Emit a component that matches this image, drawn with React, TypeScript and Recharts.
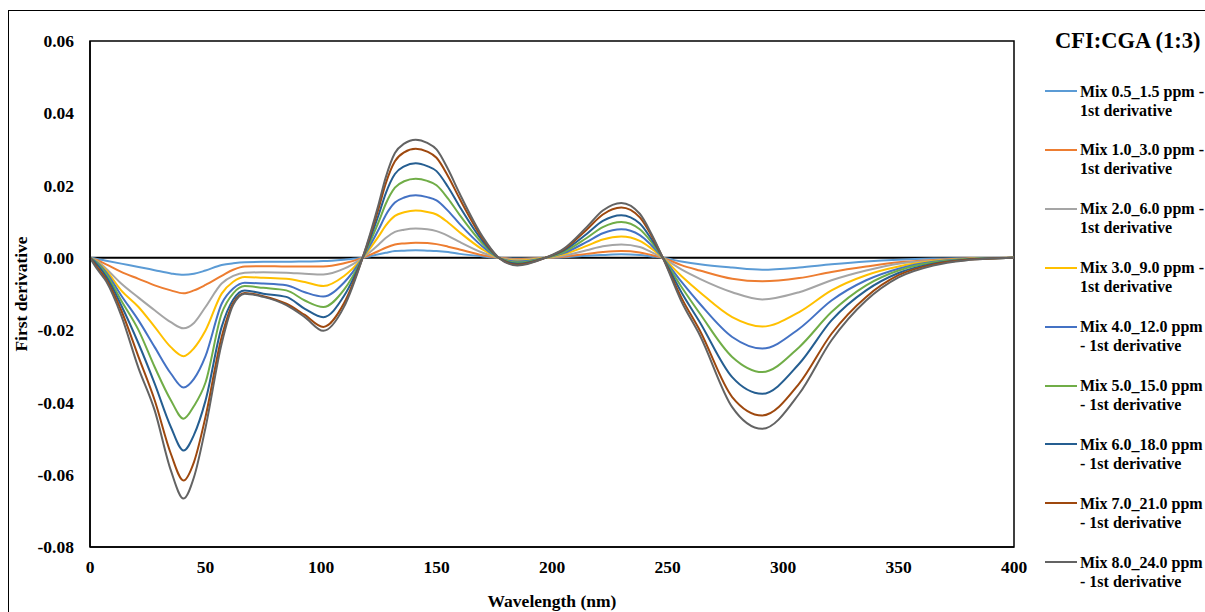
import React from 'react';
import { LineChart, Line, XAxis, YAxis, ReferenceLine, ReferenceArea, Label } from 'recharts';

const FONT = '"Liberation Serif", "Times New Roman", Times, serif';

const wavelength = [0, 3, 7, 13.5, 21, 28, 35, 40.5, 45, 50, 57, 62, 67, 75, 85, 93, 101, 110, 118, 125, 128, 132, 136, 141, 146, 150, 155, 160, 170, 177, 185, 197, 205, 215, 222, 230, 238, 243, 248, 256, 264, 278, 291, 307, 321, 336, 350, 365, 379, 400];

const mix05 = [0, -0.0003, -0.0008, -0.0016, -0.0025, -0.0034, -0.0043, -0.0047, -0.0044, -0.0035, -0.002, -0.0015, -0.0012, -0.0011, -0.0011, -0.001, -0.0009, -0.0005, 0, 0.001, 0.0014, 0.0019, 0.002, 0.0021, 0.002, 0.0019, 0.0016, 0.0011, 0.0004, 0, -0.0002, 0, 0.0002, 0.0006, 0.0008, 0.001, 0.0008, 0.0004, 0, -0.001, -0.0018, -0.0027, -0.0033, -0.0027, -0.0018, -0.001, -0.0005, -0.0002, -0.0001, 0];
const mix10 = [0, -0.0006, -0.0018, -0.0039, -0.0058, -0.0076, -0.009, -0.0098, -0.009, -0.0075, -0.005, -0.0033, -0.0024, -0.0023, -0.0024, -0.0024, -0.0024, -0.0015, 0, 0.0019, 0.0028, 0.0037, 0.004, 0.0042, 0.0041, 0.0038, 0.0031, 0.0023, 0.0007, 0, -0.0003, 0, 0.0003, 0.0011, 0.0016, 0.0019, 0.0015, 0.0008, 0, -0.002, -0.0035, -0.0058, -0.0065, -0.0056, -0.0039, -0.0024, -0.0012, -0.0006, -0.0002, 0];
const mix20 = [0, -0.0008, -0.003, -0.0071, -0.011, -0.0145, -0.0178, -0.0195, -0.018, -0.0136, -0.0071, -0.005, -0.0041, -0.004, -0.0041, -0.0044, -0.0046, -0.003, 0, 0.0037, 0.0055, 0.0072, 0.0078, 0.0081, 0.0079, 0.0074, 0.0061, 0.0044, 0.0014, 0, -0.0005, 0, 0.0006, 0.0021, 0.0032, 0.0037, 0.003, 0.0016, 0, -0.0032, -0.0058, -0.0095, -0.0115, -0.0095, -0.0062, -0.0035, -0.0016, -0.0008, -0.0003, 0];
const mix30 = [0, -0.001, -0.0035, -0.009, -0.0136, -0.0191, -0.0247, -0.0272, -0.025, -0.0201, -0.0099, -0.0066, -0.0053, -0.0055, -0.0058, -0.0067, -0.0078, -0.005, 0, 0.006, 0.0089, 0.0116, 0.0126, 0.0131, 0.0127, 0.012, 0.0098, 0.0071, 0.0023, 0, -0.0008, 0, 0.001, 0.0033, 0.0051, 0.0059, 0.0047, 0.0026, 0, -0.005, -0.0095, -0.0164, -0.019, -0.015, -0.009, -0.0048, -0.0024, -0.0009, -0.0003, 0];
const mix40 = [0, -0.0012, -0.004, -0.0104, -0.0173, -0.0247, -0.032, -0.0359, -0.0335, -0.0272, -0.0127, -0.0085, -0.0069, -0.0071, -0.0076, -0.0095, -0.0107, -0.0068, 0, 0.0079, 0.0118, 0.0153, 0.0167, 0.0173, 0.0168, 0.0159, 0.013, 0.0094, 0.0031, 0, -0.001, 0, 0.0013, 0.0044, 0.0068, 0.0079, 0.0063, 0.0035, 0, -0.0066, -0.0127, -0.0219, -0.0251, -0.0196, -0.0118, -0.0062, -0.003, -0.0011, -0.0004, 0];
const mix50 = [0, -0.0015, -0.0045, -0.0118, -0.02, -0.0302, -0.0394, -0.0445, -0.041, -0.0345, -0.0154, -0.0098, -0.0078, -0.0083, -0.009, -0.0118, -0.0136, -0.0088, 0, 0.01, 0.0149, 0.0194, 0.0212, 0.0219, 0.0213, 0.0201, 0.0164, 0.0119, 0.0039, 0, -0.0013, 0, 0.0016, 0.0055, 0.0085, 0.0099, 0.0079, 0.0044, 0, -0.008, -0.0154, -0.0274, -0.0316, -0.0247, -0.015, -0.0076, -0.0035, -0.0013, -0.0004, 0];
const mix60 = [0, -0.0018, -0.0052, -0.0131, -0.0237, -0.0348, -0.0468, -0.0533, -0.049, -0.0395, -0.0191, -0.0115, -0.009, -0.0099, -0.0108, -0.0141, -0.0164, -0.0105, 0, 0.012, 0.0178, 0.0232, 0.0253, 0.0262, 0.0254, 0.024, 0.0196, 0.0142, 0.0046, 0, -0.0016, 0, 0.002, 0.0066, 0.0102, 0.0118, 0.0095, 0.0052, 0, -0.0095, -0.0178, -0.033, -0.0376, -0.0293, -0.0173, -0.009, -0.0042, -0.0016, -0.0005, 0];
const mix70 = [0, -0.0025, -0.006, -0.0145, -0.0274, -0.0394, -0.0542, -0.0616, -0.0565, -0.044, -0.0219, -0.0125, -0.0097, -0.0106, -0.0127, -0.0158, -0.0191, -0.0125, 0, 0.0138, 0.0205, 0.0267, 0.0292, 0.0302, 0.0294, 0.0277, 0.0226, 0.0164, 0.0053, 0, -0.0019, 0, 0.0023, 0.0078, 0.012, 0.0139, 0.0112, 0.0062, 0, -0.011, -0.0201, -0.0385, -0.0436, -0.0348, -0.021, -0.0108, -0.0048, -0.0018, -0.0006, 0];
const mix80 = [0, -0.003, -0.0065, -0.0159, -0.0305, -0.0422, -0.0588, -0.0666, -0.0607, -0.047, -0.0237, -0.013, -0.0099, -0.0108, -0.0131, -0.0164, -0.0202, -0.0135, 0, 0.015, 0.0222, 0.029, 0.0316, 0.0327, 0.0318, 0.03, 0.0245, 0.0178, 0.0058, 0, -0.0021, 0, 0.0025, 0.0085, 0.0131, 0.0152, 0.0122, 0.0067, 0, -0.012, -0.0214, -0.0413, -0.0473, -0.0376, -0.0228, -0.0118, -0.0054, -0.0021, -0.0007, 0];

const xTicks = [0, 50, 100, 150, 200, 250, 300, 350, 400];
const yTicks = [-0.08, -0.06, -0.04, -0.02, 0, 0.02, 0.04, 0.06];

const seriesNames = [
  'Mix 0.5_1.5 ppm - 1st derivative',
  'Mix 1.0_3.0 ppm - 1st derivative',
  'Mix 2.0_6.0 ppm - 1st derivative',
  'Mix 3.0_9.0 ppm - 1st derivative',
  'Mix 4.0_12.0 ppm - 1st derivative',
  'Mix 5.0_15.0 ppm - 1st derivative',
  'Mix 6.0_18.0 ppm - 1st derivative',
  'Mix 7.0_21.0 ppm - 1st derivative',
  'Mix 8.0_24.0 ppm - 1st derivative',
];
const legendLines: [string, string][] = [
  ['Mix 0.5_1.5 ppm -', '1st derivative'],
  ['Mix 1.0_3.0 ppm -', '1st derivative'],
  ['Mix 2.0_6.0 ppm -', '1st derivative'],
  ['Mix 3.0_9.0 ppm -', '1st derivative'],
  ['Mix 4.0_12.0 ppm', '- 1st derivative'],
  ['Mix 5.0_15.0 ppm', '- 1st derivative'],
  ['Mix 6.0_18.0 ppm', '- 1st derivative'],
  ['Mix 7.0_21.0 ppm', '- 1st derivative'],
  ['Mix 8.0_24.0 ppm', '- 1st derivative'],
];
const seriesColors = ['#5B9BD5', '#ED7D31', '#A5A5A5', '#FFC000', '#4472C4', '#70AD47', '#255E91', '#9E480E', '#636363'];
const seriesValues = [mix05, mix10, mix20, mix30, mix40, mix50, mix60, mix70, mix80];
const seriesKeys = ['m05', 'm10', 'm20', 'm30', 'm40', 'm50', 'm60', 'm70', 'm80'];

const data = wavelength.map((x, i) => {
  const row: Record<string, number> = { x };
  seriesKeys.forEach((k, j) => {
    row[k] = seriesValues[j][i];
  });
  return row;
});

const tickStyle = { fill: '#000', fontSize: 17.5, fontWeight: 'bold', fontFamily: FONT };

export default function App() {
  return (
    <div style={{ position: 'absolute', left: 0, top: 0, width: 1205, height: 612, overflow: 'hidden', background: '#fff', fontFamily: FONT }}>
      <div style={{ position: 'absolute', left: 8, top: 10, width: 1300, height: 700, border: '1.5px solid #000', boxSizing: 'border-box' }} />
      <div style={{ position: 'absolute', left: 0, top: 0 }}>
        <LineChart width={1205} height={612} data={data} margin={{ top: 41, right: 191, bottom: 0, left: 0 }}>
          <ReferenceArea x1={0} x2={400} y1={-0.08} y2={0.06} fill="none" stroke="#000" strokeWidth={1.5} ifOverflow="visible" />
          <XAxis
            dataKey="x"
            type="number"
            domain={[0, 400]}
            ticks={xTicks}
            height={65}
            tickLine={false}
            tickSize={0}
            tickMargin={14}
            axisLine={{ stroke: '#000', strokeWidth: 1.5 }}
            tick={tickStyle}
            interval={0}
          >
            <Label value="Wavelength (nm)" position="insideBottom" offset={5} fill="#000" fontSize={17.5} fontWeight="bold" fontFamily={FONT} />
          </XAxis>
          <YAxis
            type="number"
            domain={[-0.08, 0.06]}
            ticks={yTicks}
            width={90}
            tickLine={false}
            tickSize={0}
            tickMargin={16}
            axisLine={{ stroke: '#000', strokeWidth: 1.5 }}
            tick={tickStyle}
            interval={0}
            tickFormatter={(v: number) => v.toFixed(2)}
          >
            <Label value="First derivative" angle={-90} position="center" dx={-24} fill="#000" fontSize={17.5} fontWeight="bold" fontFamily={FONT} />
          </YAxis>
          <ReferenceLine y={0} stroke="#000" strokeWidth={2} />
          {seriesKeys.map((k, j) => (
            <Line
              key={k}
              dataKey={k}
              name={seriesNames[j]}
              type="monotone"
              stroke={seriesColors[j]}
              strokeWidth={2}
              dot={false}
              activeDot={false}
              isAnimationActive={false}
            />
          ))}
        </LineChart>
      </div>
      <div style={{ position: 'absolute', left: 1055, top: 28, fontSize: 22.5, fontWeight: 'bold', whiteSpace: 'nowrap', lineHeight: '26px', color: '#000' }}>
        CFI:CGA (1:3)
      </div>
      {legendLines.map((lines, i) => {
        const cy = 91 + 58.9 * i;
        return (
          <div key={i} style={{ position: 'absolute', left: 1045, top: cy - 9.5, whiteSpace: 'nowrap' }}>
            <div style={{ position: 'absolute', left: 0, top: 8.5, width: 32, height: 2, background: seriesColors[i] }} />
            <div style={{ position: 'absolute', left: 35, top: 0, fontSize: 16, fontWeight: 'bold', lineHeight: '19px', color: '#000' }}>
              <div>{lines[0]}</div>
              <div>{lines[1]}</div>
            </div>
          </div>
        );
      })}
    </div>
  );
}
